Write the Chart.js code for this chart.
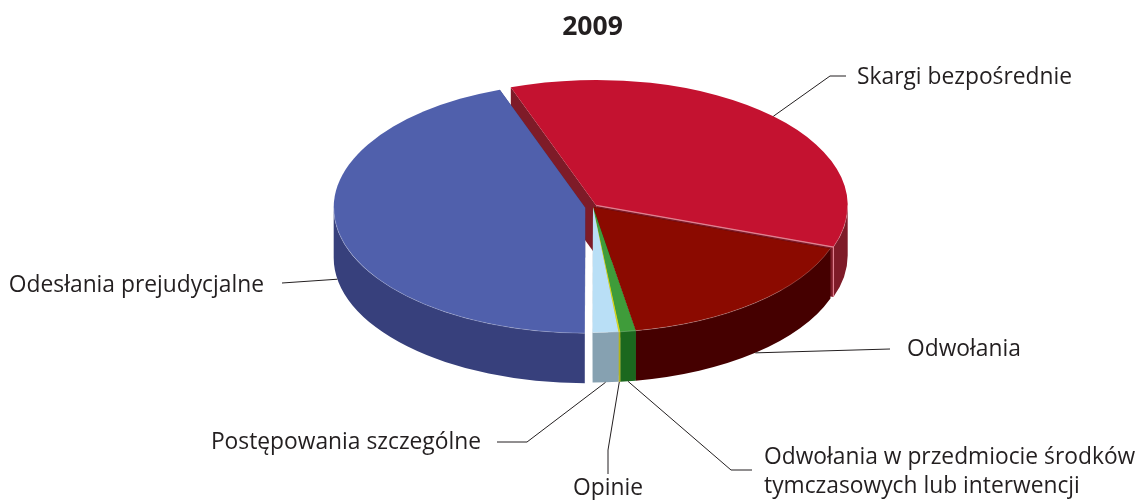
<!DOCTYPE html>
<html><head><meta charset="utf-8">
<style>html,body{margin:0;padding:0;background:#fff;overflow:hidden}canvas{display:block}</style>
<script src="https://cdn.jsdelivr.net/npm/chart.js@4"></script>
</head><body><canvas id="c" width="1139" height="500"></canvas>
<script>
const chartTitle = "2009";
const categories = ["Skargi bezpośrednie","Odwołania","Odwołania w przedmiocie środków tymczasowych lub interwencji","Opinie","Postępowania szczególne","Odesłania prejudycjalne"];
const values = [35.9,16.9,0.99,0.11,1.64,44.46];
const topColors = ["#C41230","#8B0A00","#3F9C3A","#D8D820","#B9DFF6","#5060AC"];
const wallColors = ["#7E1B28","#450000","#1B681E","#B5B51A","#86A1B1","#37407C"];
const explode = [3.6,0,0,0,0,6.3];
const startAngleDeg = -19.85;

// projection of the flat pie into the tilted view
const view = {cx:593, cy:207, rx:251.5, ry:125.5, depth:50};

// leader geometry: where each leader bends and ends, and its label text lines
const callouts = [
 {i:0, top:true, via:[[830,76],[846,76]], lines:["Skargi bezpośrednie"], x:857, y:78, align:"left"},
 {i:1, via:[[890,349]], lines:["Odwołania"], x:907, y:350, align:"left"},
 {i:2, via:[[731,470],[752,470]], lines:["Odwołania w przedmiocie środków","tymczasowych lub interwencji"], x:764, y:458, align:"left"},
 {i:3, via:[[608,450],[608,474]], lines:["Opinie"], x:608, y:489, align:"center"},
 {i:4, via:[[527,442],[497,442]], lines:["Postępowania szczególne"], x:481, y:443, align:"right"},
 {i:5, via:[[282,283]], lines:["Odesłania prejudycjalne"], x:264, y:286, align:"right"}
];
const labelFont = '22.8px "Open Sans"';

function geom(chart){
  const arcs = chart.getDatasetMeta(0).data;
  const R = arcs[0].outerRadius;
  const sx = view.rx/R, sy = view.ry/R;
  return arcs.map((a,i)=>{
    const off = explode[i]||0, mid=(a.startAngle+a.endAngle)/2;
    return {a0:a.startAngle,a1:a.endAngle,mid,
      x:view.cx+Math.cos(mid)*off*sx, y:view.cy+Math.sin(mid)*off*sy};
  });
}
function outerRange(s,fn){
  for(let k=-2;k<=2;k++){
    const lo=Math.max(s.a0,2*Math.PI*k), hi=Math.min(s.a1,Math.PI+2*Math.PI*k);
    if(hi>lo) fn(lo,hi);
  }
}
const tilted = {
  id:'tilted',
  afterDatasetsUpdate(chart){
    // pull exploded slices away from the common centre
    chart.getDatasetMeta(0).data.forEach((a,i)=>{
      const mid=(a.startAngle+a.endAngle)/2, off=explode[i]||0;
      a.x+=Math.cos(mid)*off; a.y+=Math.sin(mid)*off;
    });
  },
  beforeDatasetsDraw(chart){
    const ctx=chart.ctx, g=geom(chart), {rx,ry,depth}=view;
    const arcs=chart.getDatasetMeta(0).data, ref=arcs[1];
    // side walls, back to front
    g.forEach((s,i)=>{
      ctx.fillStyle=wallColors[i];
      for(const a of [s.a0,s.a1]){
        const px=s.x+rx*Math.cos(a), py=s.y+ry*Math.sin(a);
        ctx.beginPath();ctx.moveTo(s.x,s.y);ctx.lineTo(px,py);ctx.lineTo(px,py+depth);ctx.lineTo(s.x,s.y+depth);ctx.closePath();ctx.fill();
      }
      outerRange(s,(lo,hi)=>{
        ctx.beginPath();
        ctx.ellipse(s.x,s.y,rx,ry,0,lo,hi);
        ctx.ellipse(s.x,s.y+depth,rx,ry,0,hi,lo,true);
        ctx.closePath();ctx.fill();
      });
    });
    ctx.save();
    ctx.translate(view.cx,view.cy);
    ctx.scale(rx/ref.outerRadius,ry/ref.outerRadius);
    ctx.translate(-ref.x,-ref.y);
  },
  afterDatasetsDraw(chart){
    const ctx=chart.ctx, g=geom(chart), {rx,ry,depth}=view;
    ctx.restore();
    // faint highlight where top faces meet the walls
    ctx.strokeStyle="rgba(255,255,255,0.22)";ctx.lineWidth=1;
    g.forEach(s=>outerRange(s,(lo,hi)=>{
      ctx.beginPath();ctx.ellipse(s.x,s.y,rx,ry,0,lo,hi);ctx.stroke();
    }));
    // pale bevel along the front edge of the red slice
    const r=g[0], ex=r.x+rx*Math.cos(r.a1), ey=r.y+ry*Math.sin(r.a1);
    ctx.strokeStyle="#E0808F";ctx.lineWidth=1.2;
    ctx.beginPath();ctx.moveTo(r.x,r.y);ctx.lineTo(ex,ey);ctx.lineTo(ex,ey+depth);ctx.stroke();
    // leaders and labels
    ctx.strokeStyle="#231F20";ctx.lineWidth=1;ctx.fillStyle="#231F20";
    ctx.font=labelFont;ctx.textBaseline="middle";
    for(const c of callouts){
      const s=g[c.i];
      const x0=s.x+rx*Math.cos(s.mid), y0=s.y+ry*Math.sin(s.mid)+(c.top?0:depth);
      ctx.beginPath();ctx.moveTo(x0,y0);
      for(const [x,y] of c.via) ctx.lineTo(x,y);
      ctx.stroke();
      ctx.textAlign=c.align;
      c.lines.forEach((t,k)=>ctx.fillText(t,c.x,c.y+k*29));
    }
  }
};
new Chart(document.getElementById('c'),{
  type:'pie',
  data:{labels:categories,datasets:[{data:values,backgroundColor:topColors,borderWidth:0,clip:false}]},
  plugins:[tilted],
  options:{
    responsive:false,animation:false,events:[],
    rotation:startAngleDeg,radius:200,
    layout:{padding:{left:46}},
    plugins:{
      legend:{display:false},tooltip:{enabled:false},
      title:{display:true,text:chartTitle,color:"#231F20",font:{family:'"Open Sans"',size:26.5,weight:'bold'},padding:{top:12,bottom:0}}
    }
  }
});
</script></body></html>
